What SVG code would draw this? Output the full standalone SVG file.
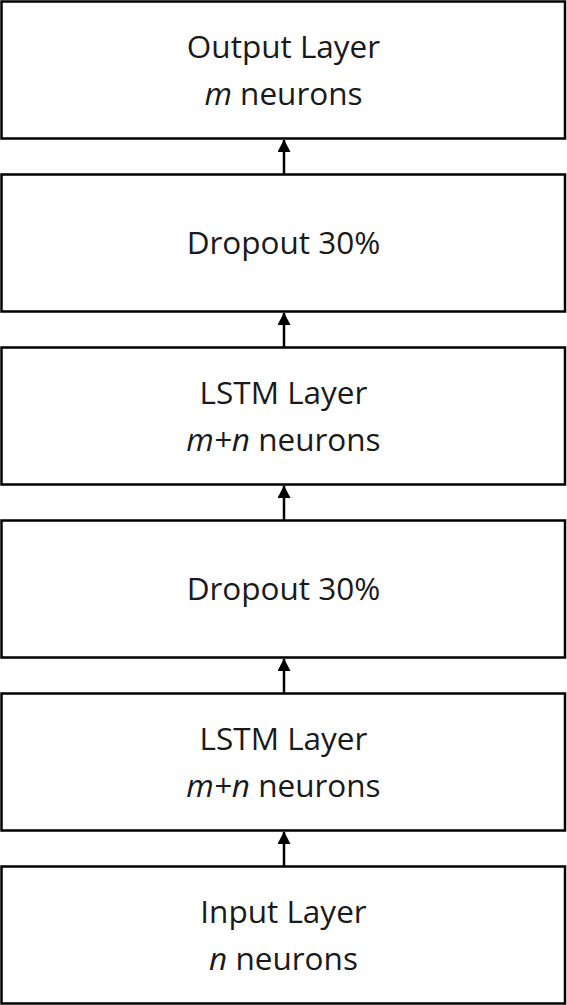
<svg xmlns="http://www.w3.org/2000/svg" width="567" height="1005" viewBox="0 0 567 1005">
<style>
.box{fill:#fff;stroke:#000;stroke-width:2.5}
.t{font-family:"Open Sans","Liberation Sans",sans-serif;font-size:31.5px;fill:#1a1a1a;text-anchor:middle}
.i{font-style:italic}
.c{stroke:#000;stroke-width:2.5;fill:none}
</style>
<defs>
<marker id="ah" markerUnits="userSpaceOnUse" markerWidth="14" markerHeight="14" refX="12" refY="6.5" orient="auto">
<path d="M0,0 L12.5,6.5 L0,13 Z" fill="#000"/>
</marker>
</defs>
<rect width="567" height="1005" fill="#fff"/>
<g id="output"><rect class="box" x="1.5" y="1.5" width="563.5" height="137"/>
<text class="t" x="283.5" y="58">Output Layer</text>
<text class="t" x="283.5" y="104.5"><tspan class="i">m</tspan> neurons</text></g>
<g id="dropout2"><rect class="box" x="1.5" y="174.5" width="563.5" height="137"/>
<text class="t" x="283.5" y="253.5">Dropout 30%</text></g>
<g id="lstm2"><rect class="box" x="1.5" y="347.5" width="563.5" height="137"/>
<text class="t" x="283.5" y="404">LSTM Layer</text>
<text class="t" x="283.5" y="450.5"><tspan class="i">m+n</tspan> neurons</text></g>
<g id="dropout1"><rect class="box" x="1.5" y="520.5" width="563.5" height="137"/>
<text class="t" x="283.5" y="599.5">Dropout 30%</text></g>
<g id="lstm1"><rect class="box" x="1.5" y="693.5" width="563.5" height="137"/>
<text class="t" x="283.5" y="750">LSTM Layer</text>
<text class="t" x="283.5" y="796.5"><tspan class="i">m+n</tspan> neurons</text></g>
<g id="input"><rect class="box" x="1.5" y="866.5" width="563.5" height="137"/>
<text class="t" x="283.5" y="923">Input Layer</text>
<text class="t" x="283.5" y="969.5"><tspan class="i">n</tspan> neurons</text></g>
<g id="connectors">
<line class="c" x1="284" y1="174" x2="284" y2="140" marker-end="url(#ah)"/>
<line class="c" x1="284" y1="347" x2="284" y2="313" marker-end="url(#ah)"/>
<line class="c" x1="284" y1="520" x2="284" y2="486" marker-end="url(#ah)"/>
<line class="c" x1="284" y1="693" x2="284" y2="659" marker-end="url(#ah)"/>
<line class="c" x1="284" y1="866" x2="284" y2="832" marker-end="url(#ah)"/>
</g>
</svg>
